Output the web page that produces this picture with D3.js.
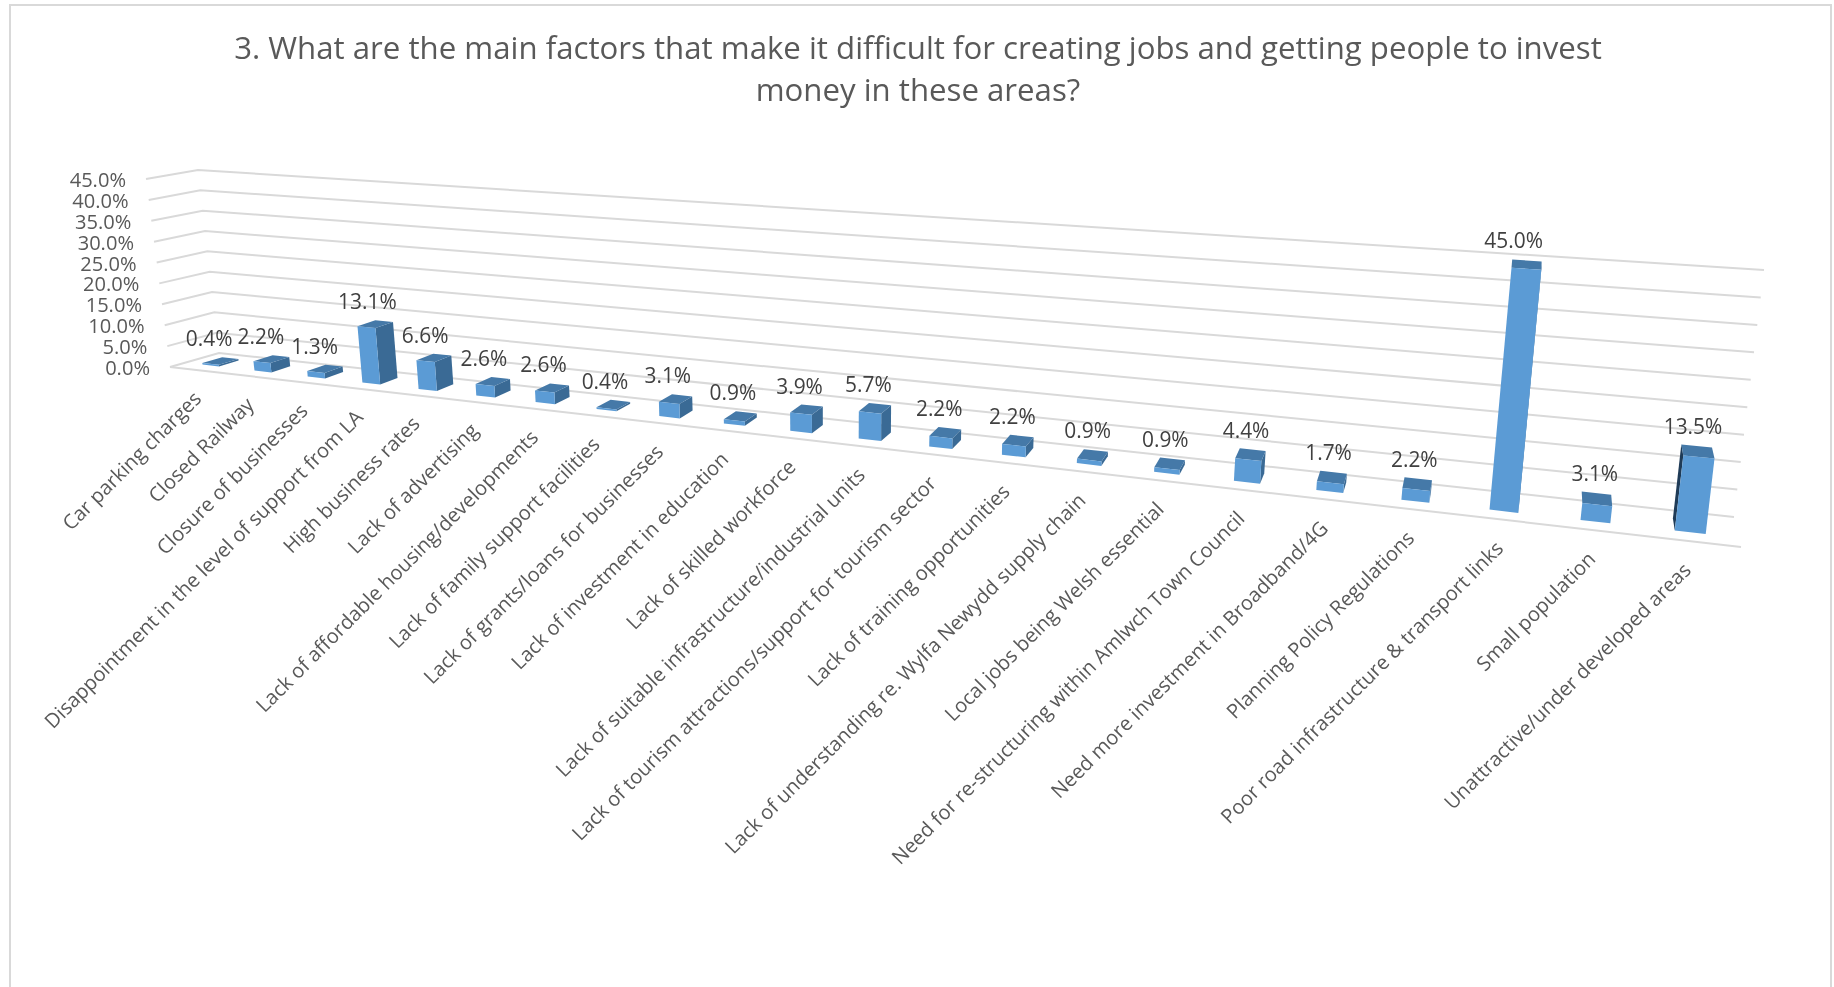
<!DOCTYPE html>
<html>
<head>
<meta charset="utf-8">
<script src="https://cdn.jsdelivr.net/npm/d3@7"></script>
<style>
    html, body { margin: 0; padding: 0; background: #fff; overflow: hidden; }
    svg { display: block; filter: blur(0.5px); }
    text { font-family: "Open Sans", sans-serif; }
</style>
</head>
<body>
<svg id="plot-svg" width="1834" height="987"></svg>
<script>
const categories = [
    "Car parking charges", "Closed Railway", "Closure of businesses",
    "Disappointment in the level of support from LA", "High business rates",
    "Lack of advertising", "Lack of affordable housing/developments",
    "Lack of family support facilities", "Lack of grants/loans for businesses",
    "Lack of investment in education", "Lack of skilled workforce",
    "Lack of suitable infrastructure/industrial units",
    "Lack of tourism attractions/support for tourism sector",
    "Lack of training opportunities", "Lack of understanding re. Wylfa Newydd supply chain",
    "Local jobs being Welsh essential", "Need for re-structuring within Amlwch Town Council",
    "Need more investment in Broadband/4G", "Planning Policy Regulations",
    "Poor road infrastructure & transport links", "Small population",
    "Unattractive/under developed areas"
];
const values = [0.4, 2.2, 1.3, 13.1, 6.6, 2.6, 2.6, 0.4, 3.1, 0.9, 3.9, 5.7, 2.2, 2.2, 0.9, 0.9, 4.4, 1.7, 2.2, 45.0, 3.1, 13.5];
const tickValues = [0, 5, 10, 15, 20, 25, 30, 35, 40, 45];
const titleLines = [
    "3. What are the main factors that make it difficult for creating jobs and getting people to invest",
    "money in these areas?"
];

// corners of the 3D box as they land on the screen
const floor = {fl: [170, 367], fr: [1741, 547], bl: [219, 353], br: [1734, 517]};
const ceil = {fl: [146, 179], fr: [1772, 292], bl: [198, 170], br: [1764, 270]};
const perspective = 1.39;
const barFront = 0.31, barBack = 0.72;

const svg = d3.select("#plot-svg");

const xScale = d3.scaleBand()
    .domain(categories)
    .range([0, 1])
    .paddingInner(0.68)
    .paddingOuter(0.34);
const yScale = d3.scaleLinear().domain([0, 45]).range([0, 1]);
const fmt = d => d3.format(".1f")(d) + "%";

function lerp(a, b, k) {
    return [a[0] + (b[0] - a[0]) * k, a[1] + (b[1] - a[1]) * k];
}

// t: across categories, v: depth (0 front, 1 back), val: value
function project(t, v, val) {
    let u = t / (t + perspective * (1 - t));
    let low = lerp(lerp(floor.fl, floor.fr, u), lerp(floor.bl, floor.br, u), v);
    let high = lerp(lerp(ceil.fl, ceil.fr, u), lerp(ceil.bl, ceil.br, u), v);
    return lerp(low, high, yScale(val));
}

const poly = pts => pts.map(p => p[0].toFixed(1) + "," + p[1].toFixed(1)).join(" ");
const mid = d => xScale(d) + xScale.bandwidth() / 2;

// chart frame
svg.append("rect")
    .attr("x", 10).attr("y", 5)
    .attr("width", 1821).attr("height", 1000)
    .attr("fill", "#fff")
    .attr("stroke", "#d9d9d9")
    .attr("stroke-width", 2);

// title
svg.selectAll(".title")
    .data(titleLines)
    .enter()
    .append("text")
    .attr("class", "title")
    .attr("x", 918)
    .attr("y", (d, i) => 59 + i * 42)
    .attr("text-anchor", "middle")
    .style("font-size", "31.2px")
    .style("fill", "#595959")
    .text(d => d);

// gridlines: side wall + back wall
svg.append("g").selectAll("polyline")
    .data(tickValues)
    .enter()
    .append("polyline")
    .attr("points", d => poly([project(0, 0, d), project(0, 1, d), project(1, 1, d)]))
    .attr("fill", "none")
    .attr("stroke", "#d9d9d9")
    .attr("stroke-width", 2);

// front edge of the floor
svg.append("polyline")
    .attr("points", poly([project(1, 0, 0), project(0, 0, 0)]))
    .attr("fill", "none")
    .attr("stroke", "#d9d9d9")
    .attr("stroke-width", 2);

// y tick labels
svg.append("g").selectAll("text")
    .data(tickValues)
    .enter()
    .append("text")
    .attr("x", d => project(0, 0, d)[0] - 20)
    .attr("y", d => project(0, 0, d)[1] + 1)
    .attr("dy", ".35em")
    .attr("text-anchor", "end")
    .style("font-size", "20.1px")
    .style("fill", "#595959")
    .text(fmt);

// bars
const bars = svg.append("g").selectAll("g")
    .data(categories)
    .enter()
    .append("g");

bars.each(function (name, i) {
    let g = d3.select(this);
    let t0 = xScale(name), t1 = t0 + xScale.bandwidth();
    let val = values[i];
    let fbl = project(t0, barFront, 0), fbr = project(t1, barFront, 0);
    let ftl = project(t0, barFront, val), ftr = project(t1, barFront, val);
    let bbl = project(t0, barBack, 0), bbr = project(t1, barBack, 0);
    let btl = project(t0, barBack, val), btr = project(t1, barBack, val);

    if (bbr[0] > fbr[0]) {
        g.append("polygon").attr("points", poly([fbr, bbr, btr, ftr])).attr("fill", "#3a6a95");
    }
    if (bbl[0] < fbl[0] - 1.6) {
        g.append("polygon").attr("points", poly([fbl, bbl, btl, ftl])).attr("fill", "#1f3b57");
    }
    g.append("polygon").attr("points", poly([ftl, ftr, btr, btl])).attr("fill", "#4579a8");
    g.append("polygon").attr("points", poly([fbl, fbr, ftr, ftl])).attr("fill", "#5b9bd5");
});

// data labels
svg.append("g").selectAll("text")
    .data(categories)
    .enter()
    .append("text")
    .attr("x", (d, i) => project(mid(d), barFront, values[i] / 2)[0] - 1.5)
    .attr("y", (d, i) => project(mid(d), barBack, values[i])[1] - 12)
    .attr("text-anchor", "middle")
    .style("font-size", "20.9px")
    .style("fill", "#404040")
    .text((d, i) => fmt(values[i]));

// category labels
svg.append("g").selectAll("text")
    .data(categories)
    .enter()
    .append("text")
    .attr("transform", d => {
        let p = project(mid(d), 0.12, 0);
        let q = project(mid(d), 0, 0);
        return "translate(" + (p[0] + 1) + "," + (q[1] + 30) + ") rotate(-45)";
    })
    .attr("text-anchor", "end")
    .style("font-size", "20.1px")
    .style("fill", "#595959")
    .text(d => d);
</script>
</body>
</html>
